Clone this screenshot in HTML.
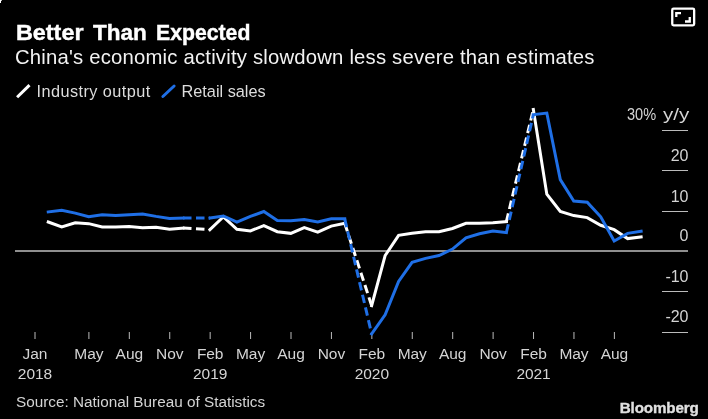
<!DOCTYPE html>
<html><head><meta charset="utf-8"><style>
html,body{margin:0;padding:0;background:#000;}
body{width:708px;height:419px;position:relative;overflow:hidden;font-family:"Liberation Sans",sans-serif;}
</style></head><body>
<svg width="708" height="419" style="position:absolute;left:0;top:0">
<line x1="662" y1="130.5" x2="688" y2="130.5" stroke="#bbbbbb" stroke-width="1"/>
<line x1="662" y1="170.5" x2="688" y2="170.5" stroke="#bbbbbb" stroke-width="1"/>
<line x1="662" y1="211.5" x2="688" y2="211.5" stroke="#bbbbbb" stroke-width="1"/>
<line x1="662" y1="291.5" x2="688" y2="291.5" stroke="#bbbbbb" stroke-width="1"/>
<line x1="662" y1="332.5" x2="688" y2="332.5" stroke="#bbbbbb" stroke-width="1"/>
<line x1="15" y1="251" x2="688" y2="251" stroke="#8f8f8f" stroke-width="2"/>
<line x1="35.0" y1="332" x2="35.0" y2="339" stroke="#bbbbbb" stroke-width="1"/>
<line x1="88.9" y1="332" x2="88.9" y2="339" stroke="#bbbbbb" stroke-width="1"/>
<line x1="129.32" y1="332" x2="129.32" y2="339" stroke="#bbbbbb" stroke-width="1"/>
<line x1="169.74" y1="332" x2="169.74" y2="339" stroke="#bbbbbb" stroke-width="1"/>
<line x1="210.16" y1="332" x2="210.16" y2="339" stroke="#bbbbbb" stroke-width="1"/>
<line x1="250.58" y1="332" x2="250.58" y2="339" stroke="#bbbbbb" stroke-width="1"/>
<line x1="291.01" y1="332" x2="291.01" y2="339" stroke="#bbbbbb" stroke-width="1"/>
<line x1="331.43" y1="332" x2="331.43" y2="339" stroke="#bbbbbb" stroke-width="1"/>
<line x1="371.85" y1="332" x2="371.85" y2="339" stroke="#bbbbbb" stroke-width="1"/>
<line x1="412.27" y1="332" x2="412.27" y2="339" stroke="#bbbbbb" stroke-width="1"/>
<line x1="452.69" y1="332" x2="452.69" y2="339" stroke="#bbbbbb" stroke-width="1"/>
<line x1="493.12" y1="332" x2="493.12" y2="339" stroke="#bbbbbb" stroke-width="1"/>
<line x1="533.54" y1="332" x2="533.54" y2="339" stroke="#bbbbbb" stroke-width="1"/>
<line x1="573.96" y1="332" x2="573.96" y2="339" stroke="#bbbbbb" stroke-width="1"/>
<line x1="614.38" y1="332" x2="614.38" y2="339" stroke="#bbbbbb" stroke-width="1"/>
<line x1="17.1" y1="97.2" x2="29.5" y2="85.1" stroke="#ffffff" stroke-width="3"/>
<line x1="162.9" y1="96.5" x2="174.1" y2="86" stroke="#1f6fe6" stroke-width="3" stroke-linecap="round"/>
<polyline points="48.27,222.03 61.75,226.88 75.22,222.84 88.70,223.65 102.17,226.88 115.64,226.88 129.12,226.47 142.59,227.69 156.07,227.28 169.54,229.30 183.01,228.09" fill="none" stroke="#ffffff" stroke-width="3" stroke-linejoin="miter" stroke-linecap="square"/>
<polyline points="209.96,229.70 223.44,216.79 236.91,229.30 250.38,230.91 263.86,225.67 277.33,231.72 290.81,233.34 304.28,227.69 317.75,232.13 331.23,226.07 344.70,223.24" fill="none" stroke="#ffffff" stroke-width="3" stroke-linejoin="miter" stroke-linecap="square"/>
<polyline points="371.65,305.60 385.12,255.54 398.60,235.36 412.07,233.34 425.55,231.72 439.02,231.72 452.49,228.49 465.97,223.24 479.44,223.24 492.92,222.84 506.39,221.63" fill="none" stroke="#ffffff" stroke-width="3" stroke-linejoin="miter" stroke-linecap="square"/>
<polyline points="533.34,109.40 546.81,194.18 560.29,211.54 573.76,215.57 587.23,217.59 600.71,225.26 614.18,229.70 627.66,238.59 641.13,236.97" fill="none" stroke="#ffffff" stroke-width="3" stroke-linejoin="miter" stroke-linecap="square"/>
<line x1="183.01" y1="228.09" x2="209.96" y2="229.70" stroke="#ffffff" stroke-width="3" stroke-dasharray="8.5 4.5"/>
<line x1="344.70" y1="223.24" x2="371.65" y2="305.60" stroke="#ffffff" stroke-width="3" stroke-dasharray="8.5 4.5"/>
<line x1="506.39" y1="221.63" x2="533.34" y2="109.40" stroke="#ffffff" stroke-width="3" stroke-dasharray="8.5 4.5"/>
<polyline points="48.27,211.94 61.75,210.33 75.22,213.15 88.70,216.79 102.17,214.77 115.64,215.57 129.12,214.77 142.59,213.96 156.07,216.38 169.54,218.40 183.01,218.00" fill="none" stroke="#1f6fe6" stroke-width="3" stroke-linejoin="miter" stroke-linecap="square"/>
<polyline points="209.96,218.00 223.44,215.98 236.91,222.03 250.38,216.38 263.86,211.54 277.33,220.42 290.81,220.82 304.28,219.61 317.75,222.03 331.23,218.80 344.70,218.80" fill="none" stroke="#1f6fe6" stroke-width="3" stroke-linejoin="miter" stroke-linecap="square"/>
<polyline points="371.65,333.86 385.12,314.88 398.60,281.38 412.07,262.40 425.55,258.37 439.02,255.54 452.49,249.08 465.97,237.78 479.44,233.74 492.92,230.91 506.39,232.53" fill="none" stroke="#1f6fe6" stroke-width="3" stroke-linejoin="miter" stroke-linecap="square"/>
<polyline points="533.34,114.65 546.81,113.03 560.29,179.65 573.76,201.04 587.23,202.25 600.71,216.79 614.18,241.01 627.66,233.34 641.13,231.32" fill="none" stroke="#1f6fe6" stroke-width="3" stroke-linejoin="miter" stroke-linecap="square"/>
<line x1="183.01" y1="218.00" x2="209.96" y2="218.00" stroke="#1f6fe6" stroke-width="3" stroke-dasharray="8.5 4.5"/>
<line x1="344.70" y1="218.80" x2="371.65" y2="333.86" stroke="#1f6fe6" stroke-width="3" stroke-dasharray="8.5 4.5"/>
<line x1="506.39" y1="232.53" x2="533.34" y2="114.65" stroke="#1f6fe6" stroke-width="3" stroke-dasharray="8.5 4.5"/>
<rect x="672.25" y="8.6" width="21.9" height="16.8" rx="1.3" fill="none" stroke="#ffffff" stroke-width="2.3"/>
<path d="M676.3 17 V13.2 H681" fill="none" stroke="#ffffff" stroke-width="2.3"/>
<path d="M685 21.5 H689.75 V17" fill="none" stroke="#ffffff" stroke-width="2.3"/>
</svg>
<div style="position:absolute;left:0;top:0;width:708px;height:419px;will-change:transform"><div style="position:absolute;left:0;top:0;width:1px;height:3px;background:#fff"></div><div style="position:absolute;left:1px;top:0;width:1px;height:1px;background:#bbb"></div>
<div style="font:bold 21.5px/1 'Liberation Sans',sans-serif;color:#fff;-webkit-text-stroke:0.4px #fff;white-space:pre;position:absolute;top:23.4px;left:16px;transform:scaleX(1.088);transform-origin:1px 0">Better</div>
<div style="font:bold 21.5px/1 'Liberation Sans',sans-serif;color:#fff;-webkit-text-stroke:0.4px #fff;white-space:pre;position:absolute;top:23.4px;left:93px;transform:scaleX(1.048);transform-origin:0 0">Than</div>
<div style="font:bold 21.5px/1 'Liberation Sans',sans-serif;color:#fff;-webkit-text-stroke:0.4px #fff;white-space:pre;position:absolute;top:23.4px;left:156px;transform:scaleX(0.987);transform-origin:1px 0">Expected</div>
<div style="position:absolute;left:15px;top:46.82px;font:normal 20.3px/1 'Liberation Sans',sans-serif;color:#f2f2f2;letter-spacing:0.2px;white-space:pre;">China's economic activity slowdown less severe than estimates</div>
<div style="position:absolute;left:36.5px;top:82.70px;font:normal 16.3px/1 'Liberation Sans',sans-serif;color:#dddddd;letter-spacing:0.43px;white-space:pre;">Industry output</div>
<div style="position:absolute;left:181.5px;top:82.70px;font:normal 16.3px/1 'Liberation Sans',sans-serif;color:#dddddd;letter-spacing:0.0px;white-space:pre;">Retail sales</div>
<div style="position:absolute;left:627.3px;top:107.26px;font:normal 16px/1 'Liberation Sans',sans-serif;color:#d4d4d4;letter-spacing:0px;white-space:pre;transform:scaleX(0.91);transform-origin:0 0">30%</div>
<div style="position:absolute;left:662.6px;top:107.26px;font:normal 16px/1 'Liberation Sans',sans-serif;color:#d4d4d4;letter-spacing:0px;white-space:pre;transform:scaleX(1.285);transform-origin:0 0">y/y</div>
<div style="position:absolute;right:19.5px;top:148.46px;font:normal 16px/1 'Liberation Sans',sans-serif;color:#d4d4d4;letter-spacing:0px;white-space:pre;">20</div>
<div style="position:absolute;right:19.5px;top:189.46px;font:normal 16px/1 'Liberation Sans',sans-serif;color:#d4d4d4;letter-spacing:0px;white-space:pre;">10</div>
<div style="position:absolute;right:19.5px;top:228.46px;font:normal 16px/1 'Liberation Sans',sans-serif;color:#d4d4d4;letter-spacing:0px;white-space:pre;">0</div>
<div style="position:absolute;right:19.5px;top:269.46px;font:normal 16px/1 'Liberation Sans',sans-serif;color:#d4d4d4;letter-spacing:0px;white-space:pre;">-10</div>
<div style="position:absolute;right:19.5px;top:309.46px;font:normal 16px/1 'Liberation Sans',sans-serif;color:#d4d4d4;letter-spacing:0px;white-space:pre;">-20</div>
<div style="position:absolute;left:-15.00px;width:100px;text-align:center;top:346.38px;font:normal 15.5px/1 'Liberation Sans',sans-serif;color:#d4d4d4;letter-spacing:-0.05px;white-space:pre">Jan</div>
<div style="position:absolute;left:-15.00px;width:100px;text-align:center;top:365.98px;font:normal 15.5px/1 'Liberation Sans',sans-serif;color:#d4d4d4;letter-spacing:-0.05px;white-space:pre">2018</div>
<div style="position:absolute;left:38.90px;width:100px;text-align:center;top:346.38px;font:normal 15.5px/1 'Liberation Sans',sans-serif;color:#d4d4d4;letter-spacing:-0.05px;white-space:pre">May</div>
<div style="position:absolute;left:79.32px;width:100px;text-align:center;top:346.38px;font:normal 15.5px/1 'Liberation Sans',sans-serif;color:#d4d4d4;letter-spacing:-0.05px;white-space:pre">Aug</div>
<div style="position:absolute;left:119.74px;width:100px;text-align:center;top:346.38px;font:normal 15.5px/1 'Liberation Sans',sans-serif;color:#d4d4d4;letter-spacing:-0.05px;white-space:pre">Nov</div>
<div style="position:absolute;left:160.16px;width:100px;text-align:center;top:346.38px;font:normal 15.5px/1 'Liberation Sans',sans-serif;color:#d4d4d4;letter-spacing:-0.05px;white-space:pre">Feb</div>
<div style="position:absolute;left:160.16px;width:100px;text-align:center;top:365.98px;font:normal 15.5px/1 'Liberation Sans',sans-serif;color:#d4d4d4;letter-spacing:-0.05px;white-space:pre">2019</div>
<div style="position:absolute;left:200.58px;width:100px;text-align:center;top:346.38px;font:normal 15.5px/1 'Liberation Sans',sans-serif;color:#d4d4d4;letter-spacing:-0.05px;white-space:pre">May</div>
<div style="position:absolute;left:241.01px;width:100px;text-align:center;top:346.38px;font:normal 15.5px/1 'Liberation Sans',sans-serif;color:#d4d4d4;letter-spacing:-0.05px;white-space:pre">Aug</div>
<div style="position:absolute;left:281.43px;width:100px;text-align:center;top:346.38px;font:normal 15.5px/1 'Liberation Sans',sans-serif;color:#d4d4d4;letter-spacing:-0.05px;white-space:pre">Nov</div>
<div style="position:absolute;left:321.85px;width:100px;text-align:center;top:346.38px;font:normal 15.5px/1 'Liberation Sans',sans-serif;color:#d4d4d4;letter-spacing:-0.05px;white-space:pre">Feb</div>
<div style="position:absolute;left:321.85px;width:100px;text-align:center;top:365.98px;font:normal 15.5px/1 'Liberation Sans',sans-serif;color:#d4d4d4;letter-spacing:-0.05px;white-space:pre">2020</div>
<div style="position:absolute;left:362.27px;width:100px;text-align:center;top:346.38px;font:normal 15.5px/1 'Liberation Sans',sans-serif;color:#d4d4d4;letter-spacing:-0.05px;white-space:pre">May</div>
<div style="position:absolute;left:402.69px;width:100px;text-align:center;top:346.38px;font:normal 15.5px/1 'Liberation Sans',sans-serif;color:#d4d4d4;letter-spacing:-0.05px;white-space:pre">Aug</div>
<div style="position:absolute;left:443.12px;width:100px;text-align:center;top:346.38px;font:normal 15.5px/1 'Liberation Sans',sans-serif;color:#d4d4d4;letter-spacing:-0.05px;white-space:pre">Nov</div>
<div style="position:absolute;left:483.54px;width:100px;text-align:center;top:346.38px;font:normal 15.5px/1 'Liberation Sans',sans-serif;color:#d4d4d4;letter-spacing:-0.05px;white-space:pre">Feb</div>
<div style="position:absolute;left:483.54px;width:100px;text-align:center;top:365.98px;font:normal 15.5px/1 'Liberation Sans',sans-serif;color:#d4d4d4;letter-spacing:-0.05px;white-space:pre">2021</div>
<div style="position:absolute;left:523.96px;width:100px;text-align:center;top:346.38px;font:normal 15.5px/1 'Liberation Sans',sans-serif;color:#d4d4d4;letter-spacing:-0.05px;white-space:pre">May</div>
<div style="position:absolute;left:564.38px;width:100px;text-align:center;top:346.38px;font:normal 15.5px/1 'Liberation Sans',sans-serif;color:#d4d4d4;letter-spacing:-0.05px;white-space:pre">Aug</div>
<div style="position:absolute;left:16px;top:393.95px;font:normal 15.3px/1 'Liberation Sans',sans-serif;color:#d4d4d4;letter-spacing:0px;white-space:pre;">Source: National Bureau of Statistics</div>
<div style="position:absolute;left:619.8px;top:399.63px;font:bold 15.2px/1 'Liberation Sans',sans-serif;color:#e0e0e0;letter-spacing:-0.14px;white-space:pre;-webkit-text-stroke:0.35px #e0e0e0">Bloomberg</div>
</div></body></html>
